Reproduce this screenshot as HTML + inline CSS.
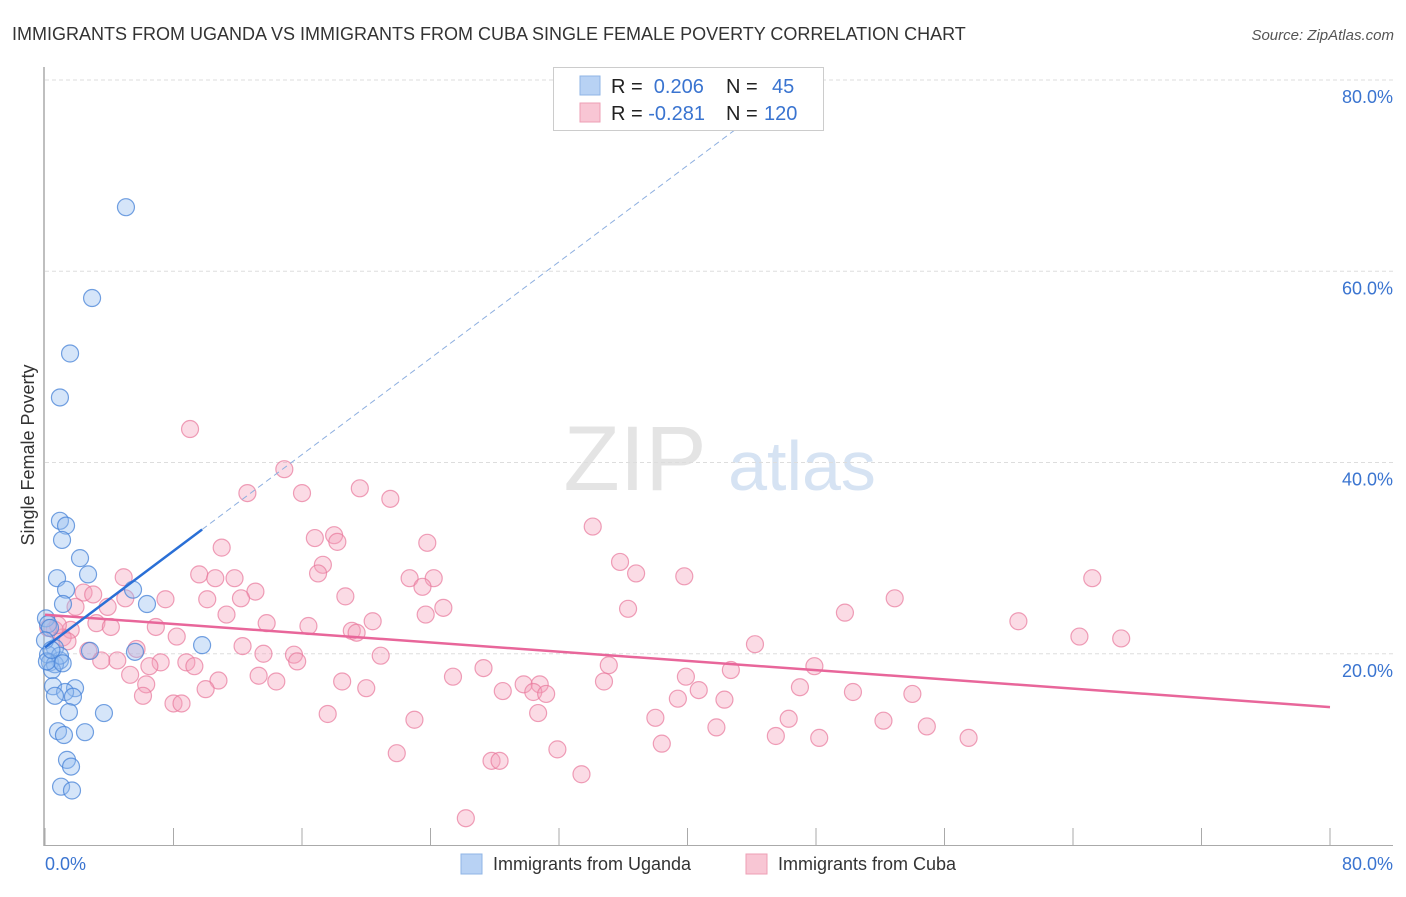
<!DOCTYPE html>
<html><head><meta charset="utf-8"><style>
body{margin:0;background:#fff;width:1406px;height:892px;overflow:hidden;font-family:"Liberation Sans",sans-serif}
svg text{font-family:"Liberation Sans",sans-serif}
</style></head><body>
<svg id="chart" width="1406" height="892" xmlns="http://www.w3.org/2000/svg">
<text x="12" y="40" font-size="18" fill="#333">IMMIGRANTS FROM UGANDA VS IMMIGRANTS FROM CUBA SINGLE FEMALE POVERTY CORRELATION CHART</text>
<text x="1394" y="40" font-size="15" fill="#555" font-style="italic" text-anchor="end">Source: ZipAtlas.com</text>
<g>
<text x="635" y="490" font-size="92" fill="#e4e4e4" font-family="Liberation Serif" text-anchor="middle">ZIP</text>
<text x="802" y="490" font-size="70" fill="#d6e3f3" text-anchor="middle">atlas</text>
</g>
<g id="grid"></g>
<line x1="44" y1="67" x2="44" y2="846" stroke="#aaa" stroke-width="1.5"/>
<line x1="44" y1="845.5" x2="1393" y2="845.5" stroke="#aaa" stroke-width="1"/>
<g id="xticks"></g>
<text transform="translate(34,455) rotate(-90)" font-size="18" fill="#333" text-anchor="middle">Single Female Poverty</text>
<text x="45" y="870" font-size="18" fill="#3a74d0">0.0%</text>
<text x="1393" y="870" font-size="18" fill="#3a74d0" text-anchor="end">80.0%</text>
<g id="pts"></g>
<g id="lines"></g>
<g>
<rect x="553.5" y="67.5" width="270" height="63" fill="#fff" stroke="#ccc"/>
<rect x="580" y="76" width="20" height="19" fill="#b8d2f4" stroke="#8fb4e6"/>
<rect x="580" y="103" width="20" height="19" fill="#f8c6d4" stroke="#ee9fb5"/>
<text x="611" y="93" font-size="20" fill="#222">R = <tspan fill="#3a74d0">&#160;0.206</tspan><tspan x="726">N = </tspan><tspan x="772" fill="#3a74d0">45</tspan></text>
<text x="611" y="120" font-size="20" fill="#222">R = <tspan fill="#3a74d0">-0.281</tspan><tspan x="726">N = </tspan><tspan x="764" fill="#3a74d0">120</tspan></text>
</g>
<g>
<rect x="461" y="854" width="21" height="20" fill="#b8d2f4" stroke="#8fb4e6"/>
<text x="493" y="870" font-size="18" fill="#333">Immigrants from Uganda</text>
<rect x="746" y="854" width="21" height="20" fill="#f8c6d4" stroke="#ee9fb5"/>
<text x="778" y="870" font-size="18" fill="#333">Immigrants from Cuba</text>
</g>
</svg>
<script>
const yTicks=[20,40,60,80];
const xTickVals=[0,8,16,24,32,40,48,56,64,72,80];
const ugandaX=[5.04,2.93,1.56,0.93,0.93,1.31,1.06,2.18,0.75,2.68,1.31,5.48,6.35,1.12,0.06,0.19,0.31,9.78,2.80,5.6,0.62,0.19,0.93,0.31,0.62,0.44,0.5,1.87,1.25,0.62,1.74,1.49,3.67,0.81,2.49,1.18,1.37,1.62,1.0,1.68,0.93,0.0,0.12,0.4,1.1];
const ugandaY=[66.7,57.2,51.4,46.8,33.9,33.4,31.9,30.0,27.9,28.3,26.7,26.7,25.2,25.2,23.7,23.1,22.7,20.9,20.3,20.2,20.6,19.9,19.3,19.1,18.9,18.3,16.6,16.4,16.0,15.6,15.5,13.9,13.8,11.9,11.8,11.5,8.9,8.2,6.1,5.7,19.8,21.4,19.2,20.4,19.0];
const cubaX=[9.03,14.9,12.6,16.0,19.6,21.5,34.1,18.0,16.8,18.2,23.8,11.0,35.8,17.3,36.8,17.0,9.6,10.6,11.8,22.7,24.2,39.8,65.2,4.9,23.5,13.1,5.0,7.5,10.1,12.2,18.7,52.9,2.4,3.0,24.8,36.3,23.7,3.9,1.9,49.8,11.3,20.4,3.2,13.8,16.4,60.6,4.1,6.9,1.6,19.1,19.4,8.2,64.4,67.0,1.1,1.4,12.3,44.2,5.7,2.7,13.6,15.5,20.9,4.5,3.5,7.2,8.8,15.7,35.1,6.5,9.3,47.9,27.3,42.7,5.3,13.3,39.9,25.4,10.8,14.4,18.5,6.3,34.8,29.8,30.8,40.7,47.0,10.0,20.0,28.5,30.4,31.2,50.3,54.0,6.1,39.4,42.3,8.0,8.5,30.7,17.6,38.0,23.0,46.3,52.2,41.8,54.9,45.5,48.2,57.5,38.4,31.9,21.9,27.8,28.3,33.4,26.2,0.6,0.8,0.2];
const cubaY=[43.5,39.3,36.8,36.8,37.3,36.2,33.3,32.4,32.1,31.7,31.6,31.1,29.6,29.3,28.4,28.4,28.3,27.9,27.9,27.9,27.9,28.1,27.9,28.0,27.0,26.5,25.8,25.7,25.7,25.8,26.0,25.8,26.4,26.2,24.8,24.7,24.1,24.9,24.9,24.3,24.1,23.4,23.2,23.2,22.9,23.4,22.8,22.8,22.5,22.4,22.2,21.8,21.8,21.6,21.7,21.3,20.8,21.0,20.5,20.3,20.0,19.9,19.8,19.3,19.3,19.1,19.1,19.2,18.8,18.7,18.7,18.7,18.5,18.3,17.8,17.7,17.6,17.6,17.2,17.1,17.1,16.8,17.1,16.8,16.8,16.2,16.5,16.3,16.4,16.1,16.0,15.8,16.0,15.8,15.6,15.3,15.2,14.8,14.8,13.8,13.7,13.3,13.1,13.2,13.0,12.3,12.4,11.4,11.2,11.2,10.6,10.0,9.6,8.8,8.8,7.4,2.8,22.5,23.0,22.7];
const NS='http://www.w3.org/2000/svg';
const X0=45,X1=1330,Y0=845,Y80=80;
const xs=v=>X0+v*(X1-X0)/80;
const ys=v=>Y0-v*(Y0-Y80)/80;
function mk(tag,attrs,parent){const e=document.createElementNS(NS,tag);for(const k in attrs)e.setAttribute(k,attrs[k]);parent.appendChild(e);return e;}
const grid=document.getElementById('grid');
yTicks.forEach(t=>{
  const l=mk('line',{x1:45,x2:1393,y1:ys(t),y2:ys(t),stroke:'#ddd','stroke-dasharray':'4,3'},grid);
  
  
  const tx=mk('text',{x:1393,y:ys(t)+23,'font-size':18,fill:'#3a74d0','text-anchor':'end'},grid);
  tx.textContent=t.toFixed(1)+'%';
  
  
});
const xt=document.getElementById('xticks');
xTickVals.forEach(t=>{
  const l=mk('line',{x1:xs(t),x2:xs(t),y1:828,y2:845,stroke:'#aaa'},xt);
  
  
});
const pts=document.getElementById('pts');
cubaX.forEach((x,i)=>{
  const c=mk('circle',{cx:xs(x),cy:ys(cubaY[i]),r:8.5,fill:'rgba(244,160,186,0.38)',stroke:'rgba(232,120,155,0.7)','stroke-width':1.2},pts);
  
  
});
ugandaX.forEach((x,i)=>{
  const c=mk('circle',{cx:xs(x),cy:ys(ugandaY[i]),r:8.5,fill:'rgba(150,190,240,0.4)',stroke:'rgba(70,130,215,0.75)','stroke-width':1.2},pts);
  
  
});
function fit(X,Y){const n=X.length;let mx=0,my=0;for(let i=0;i<n;i++){mx+=X[i];my+=Y[i];}mx/=n;my/=n;let sxy=0,sxx=0;for(let i=0;i<n;i++){sxy+=(X[i]-mx)*(Y[i]-my);sxx+=(X[i]-mx)**2;}const b=sxy/sxx;return [my-b*mx,b];}
const lines=document.getElementById('lines');
const [ca,cb]=fit(cubaX,cubaY);
const pl=mk('line',{x1:xs(0),y1:ys(ca),x2:xs(80),y2:ys(ca+cb*80),stroke:'#e8669a','stroke-width':2.5},lines);


const [ua,ub]=fit(ugandaX,ugandaY);
const xmaxU=Math.max(...ugandaX);
const bl=mk('line',{x1:xs(0),y1:ys(ua),x2:xs(xmaxU),y2:ys(ua+ub*xmaxU),stroke:'#2a6fd6','stroke-width':2.5},lines);


const xEnd=Math.min(80,(80-ua)/ub);
const bd=mk('line',{x1:xs(xmaxU),y1:ys(ua+ub*xmaxU),x2:xs(xEnd),y2:ys(ua+ub*xEnd),stroke:'#8fb0e0','stroke-width':1,'stroke-dasharray':'6,4'},lines);


</script>
</body></html>
